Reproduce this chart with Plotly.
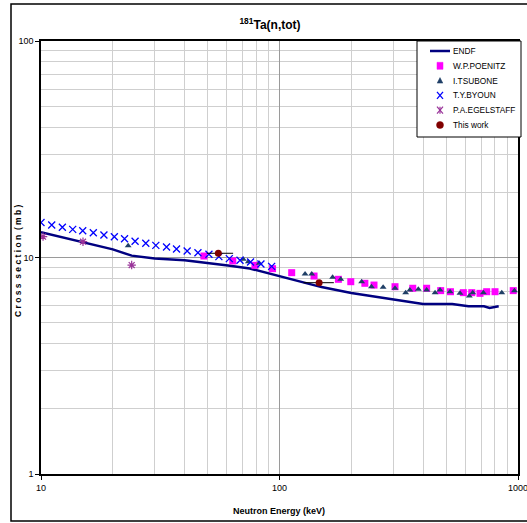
import plotly.graph_objects as go

# ENDF evaluated curve
endf_x = [10, 15, 20, 24, 30, 40, 50, 62, 75, 100, 150, 200, 300, 400, 530, 620, 720, 760, 830]
endf_y = [13.1, 11.8, 10.9, 10.2, 9.9, 9.7, 9.45, 9.15, 8.9, 8.2, 7.3, 6.85, 6.4, 6.1, 6.1, 5.95, 5.95, 5.85, 5.95]

# W.P.POENITZ
poe_x = [48.2, 63.7, 78.9, 93.5, 112.5, 139.6, 176.6, 199, 228, 249, 305, 362, 414, 474, 521, 590, 640, 693, 739, 801, 955]
poe_y = [10.16, 9.64, 9.2, 8.88, 8.51, 8.21, 7.93, 7.73, 7.6, 7.46, 7.33, 7.21, 7.21, 7.03, 6.95, 6.88, 6.88, 6.83, 6.95, 6.95, 7.03]

# I.TSUBONE
tsu_x = [23.2, 70.5, 74.0, 82.2, 128, 136.5, 167, 180.6, 221, 243, 272, 305, 338, 352, 382, 414, 449, 471, 519, 571, 625, 646, 716, 855, 966]
tsu_y = [11.33, 9.81, 9.56, 9.4, 8.39, 8.39, 8.1, 7.93, 7.73, 7.33, 7.28, 7.21, 6.88, 7.08, 7.13, 7.08, 6.88, 7.08, 6.95, 6.83, 6.64, 6.88, 6.88, 6.88, 7.03]

# T.Y.BYOUN
byo_x = [10.0, 11.09, 12.29, 13.58, 14.96, 16.57, 18.36, 20.3, 22.4, 24.8, 27.5, 30.3, 33.6, 37.0, 41.0, 45.5, 50.6, 55.7, 61.6, 68.3, 75.6, 83.6, 92.7]
byo_y = [14.5, 14.13, 13.79, 13.49, 13.3, 13.02, 12.7, 12.48, 12.21, 11.88, 11.63, 11.38, 11.18, 10.94, 10.71, 10.52, 10.35, 10.09, 9.88, 9.71, 9.53, 9.33, 9.1]

# P.A.EGELSTAFF
ege_x = [10.2, 15.0, 24.0]
ege_y = [12.48, 11.83, 9.23]

# This work
tw_x = [55.4, 146.6]
tw_y = [10.46, 7.65]
tw_xlo = [49.6, 126]
tw_xhi = [63.9, 169]

x_tickvals = [10, 100, 1000]
x_ticktext = ["10", "100", "1000"]
y_tickvals = [1, 10, 100]
y_ticktext = ["1", "10", "100"]

series_names = ["ENDF", "W.P.POENITZ", "I.TSUBONE", "T.Y.BYOUN", "P.A.EGELSTAFF", "This work"]

FONT = "Liberation Sans, Arial, sans-serif"

C_ENDF = "#000080"
C_POE = "#FF00FF"
C_TSU = "#1F3F66"
C_BYO = "#0000FF"
C_EGE = "#993399"
C_TW = "#800000"

# pixel geometry of the plot area
W, H = 527, 523
L, R, T, B = 41, 518, 41, 474
PW, PH = R - L, B - T


def px(x):
    return (x - L) / PW


def py(y):
    return (B - y) / PH


fig = go.Figure()
fig.add_trace(go.Scatter(x=endf_x, y=endf_y, mode="lines", name="ENDF",
                         line=dict(color=C_ENDF, width=2.5)))
fig.add_trace(go.Scatter(x=poe_x, y=poe_y, mode="markers", name="W.P.POENITZ",
                         marker=dict(symbol="square", size=7, color=C_POE)))
fig.add_trace(go.Scatter(x=tsu_x, y=tsu_y, mode="markers", name="I.TSUBONE",
                         marker=dict(symbol="triangle-up", size=6, color=C_TSU)))
fig.add_trace(go.Scatter(x=byo_x, y=byo_y, mode="markers", name="T.Y.BYOUN",
                         marker=dict(symbol="x-thin-open", size=7, color=C_BYO,
                                     line=dict(color=C_BYO, width=1.3))))
fig.add_trace(go.Scatter(x=ege_x, y=ege_y, mode="markers", name="P.A.EGELSTAFF",
                         marker=dict(symbol="asterisk-open", size=7, color=C_EGE,
                                     line=dict(color=C_EGE, width=1.2))))
fig.add_trace(go.Scatter(x=tw_x, y=tw_y, mode="markers", name="This work",
                         marker=dict(symbol="circle", size=7, color=C_TW),
                         error_x=dict(type="data", symmetric=False,
                                      array=[h - c for h, c in zip(tw_xhi, tw_x)],
                                      arrayminus=[c - l for l, c in zip(tw_xlo, tw_x)],
                                      color="black", thickness=1, width=0)))

# ---- manual legend (box + symbol shapes + labels) ----
LEG_L, LEG_R, LEG_T, LEG_B = 417, 521, 41, 137
fig.add_shape(type="rect", xref="paper", yref="paper",
              x0=px(LEG_L), x1=px(LEG_R), y0=py(LEG_B), y1=py(LEG_T),
              line=dict(color="black", width=1), fillcolor="white", layer="above")
item_y = [51 + 14.8 * i for i in range(len(series_names))]
SX = 440  # symbol centre (px)


def seg(x0, y0, x1, y1, color, width):
    fig.add_shape(type="line", xref="paper", yref="paper",
                  x0=px(x0), y0=py(y0), x1=px(x1), y1=py(y1),
                  line=dict(color=color, width=width), layer="above")


def poly(points, color):
    d = "M " + " L ".join(f"{px(a):.5f},{py(b):.5f}" for a, b in points) + " Z"
    fig.add_shape(type="path", xref="paper", yref="paper", path=d,
                  fillcolor=color, line=dict(color=color, width=0.5), layer="above")


y0 = item_y[0]
seg(430, y0, 450, y0, C_ENDF, 2.5)
y1 = item_y[1]
poly([(SX - 3, y1 - 3.5), (SX + 3, y1 - 3.5), (SX + 3, y1 + 3.5), (SX - 3, y1 + 3.5)], C_POE)
y2 = item_y[2]
poly([(SX, y2 - 3), (SX + 2.8, y2 + 2.5), (SX - 2.8, y2 + 2.5)], C_TSU)
y3 = item_y[3]
seg(SX - 3, y3 - 3.5, SX + 3, y3 + 3.5, C_BYO, 1.3)
seg(SX - 3, y3 + 3.5, SX + 3, y3 - 3.5, C_BYO, 1.3)
y4 = item_y[4]
seg(SX - 3, y4 - 3.5, SX + 3, y4 + 3.5, C_EGE, 1.2)
seg(SX - 3, y4 + 3.5, SX + 3, y4 - 3.5, C_EGE, 1.2)
seg(SX, y4 - 3.5, SX, y4 + 3.5, C_EGE, 1.2)
y5 = item_y[5]
fig.add_shape(type="circle", xref="paper", yref="paper",
              x0=px(SX - 3.5), x1=px(SX + 3.5), y0=py(y5 + 3.5), y1=py(y5 - 3.5),
              fillcolor=C_TW, line=dict(color=C_TW, width=0.5), layer="above")

for name, yy in zip(series_names, item_y):
    fig.add_annotation(xref="paper", yref="paper", x=px(451), y=py(yy),
                       text=name, showarrow=False, xanchor="left", yanchor="middle",
                       font=dict(family=FONT, size=8.3, color="black"))

minor_x = [m * d for d in (10, 100) for m in range(2, 10)]
minor_y = [m * d for d in (1, 10) for m in range(2, 10)]

fig.update_layout(
    xaxis=dict(type="log", range=[1, 3], tickvals=x_tickvals, ticktext=x_ticktext,
               showgrid=True, gridcolor="#9a9a9a", gridwidth=1,
               minor=dict(tickvals=minor_x, showgrid=True, gridcolor="#cfcfcf", gridwidth=1),
               showline=True, linecolor="black", linewidth=1.5, mirror=True,
               ticks="outside", ticklen=4, tickcolor="black",
               tickfont=dict(family=FONT, size=9, color="black"),
               ticklabeloverflow="allow",
               automargin=False, zeroline=False),
    yaxis=dict(type="log", range=[0, 2], tickvals=y_tickvals, ticktext=y_ticktext,
               showgrid=True, gridcolor="#9a9a9a", gridwidth=1,
               minor=dict(tickvals=minor_y, showgrid=True, gridcolor="#cfcfcf", gridwidth=1),
               showline=True, linecolor="black", linewidth=1.5, mirror=True,
               ticks="outside", ticklen=4, tickcolor="black",
               tickfont=dict(family=FONT, size=9, color="black"),
               ticklabeloverflow="allow",
               automargin=False, zeroline=False),
)

# axis titles
fig.add_annotation(xref="paper", yref="paper", x=px(279), y=py(511),
                   text="<b>Neutron Energy (keV)</b>", showarrow=False,
                   xanchor="center", yanchor="middle",
                   font=dict(family=FONT, size=9, color="black"))
fig.add_annotation(xref="paper", yref="paper", x=px(18), y=py(261),
                   text="<b>C r o s s  s e c t i o n  ( m b )</b>", showarrow=False,
                   textangle=-90, xanchor="center", yanchor="middle",
                   font=dict(family=FONT, size=8.5, color="black"))

# outer chart border
fig.add_shape(type="rect", xref="paper", yref="paper",
              x0=px(11), x1=px(532), y0=py(521), y1=py(4),
              line=dict(color="black", width=1.5), fillcolor="rgba(0,0,0,0)", layer="below")

fig.update_layout(
    width=W, height=H,
    margin=dict(l=L, r=W - R, t=T, b=H - B),
    paper_bgcolor="white", plot_bgcolor="white",
    font=dict(family=FONT, color="black"),
    title=dict(text="<b><sup>181</sup>Ta(n,tot)</b>", x=270 / W, xanchor="center",
               y=1 - 25 / H, yanchor="middle", font=dict(family=FONT, size=12, color="black")),
    showlegend=False,
)

fig.write_html("out.html")
